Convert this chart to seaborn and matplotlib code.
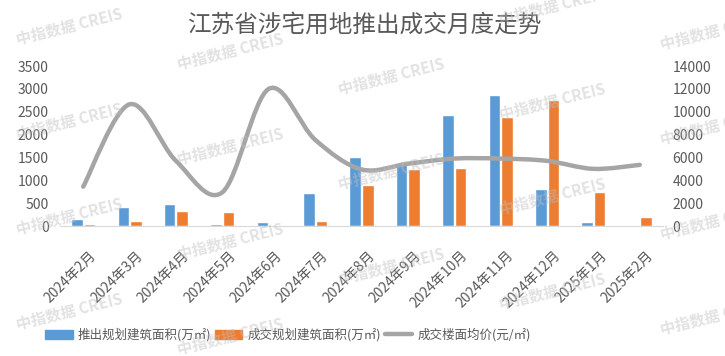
import numpy as np
import pandas as pd
import seaborn as sns
import matplotlib
matplotlib.use("Agg")
import matplotlib.pyplot as plt
from matplotlib.path import Path
from matplotlib.patches import PathPatch, Patch
from matplotlib.lines import Line2D
from matplotlib.transforms import ScaledTranslation

months = ["2024年2月", "2024年3月", "2024年4月", "2024年5月", "2024年6月", "2024年7月",
          "2024年8月", "2024年9月", "2024年10月", "2024年11月", "2024年12月",
          "2025年1月", "2025年2月"]
supply = [160, 410, 480, 50, 90, 720, 1510, 1350, 2425, 2865, 805, 85, 20]
deal = [50, 115, 330, 305, 20, 115, 895, 1245, 1265, 2385, 2755, 740, 195]
price = [3440, 10650, 5700, 2950, 12000, 7550, 4950, 5450, 5900, 5900, 5700, 5000, 5350]

supply_name = "推出规划建筑面积(万㎡)"
deal_name = "成交规划建筑面积(万㎡)"
price_name = "成交楼面均价(元/㎡)"
title = "江苏省涉宅用地推出成交月度走势"

blue = "#5B9BD5"
orange = "#ED7D31"
grey = "#A5A5A5"
txt = "#595959"

sns.set_style("white")
plt.rcParams["font.family"] = ["Noto Sans CJK SC", "DejaVu Sans"]

df = pd.DataFrame({"month": months * 2,
                   "value": supply + deal,
                   "series": [supply_name] * len(months) + [deal_name] * len(months)})

fig, ax = plt.subplots(figsize=(7.25, 3.56), dpi=100)
fig.subplots_adjust(left=60 / 725, right=663 / 725, bottom=1 - 226 / 356, top=1 - 66 / 356)

sns.barplot(data=df, x="month", y="value", hue="series", order=months,
            hue_order=[supply_name, deal_name], palette=[blue, orange],
            saturation=1, width=0.54, gap=0.08, legend=False, ax=ax)
ax.set_xlim(-0.5, len(months) - 0.5)
ax.set_ylim(0, 3500)
ax.set_yticks(np.arange(0, 3501, 500))
ax.set_xlabel("")
ax.set_ylabel("")
for s in ["top", "left", "right"]:
    ax.spines[s].set_visible(False)
ax.spines["bottom"].set_color("#D9D9D9")
ax.set_xticks(np.arange(-0.5, len(months)), minor=True)
ax.tick_params(axis="x", which="minor", length=5, color="#D9D9D9", direction="out")
ax.tick_params(axis="x", which="major", length=0, pad=16, labelsize=10, labelcolor=txt)
ax.tick_params(axis="y", length=0, pad=8, labelsize=10, labelcolor=txt)
for lbl in ax.get_xticklabels():
    lbl.set_rotation(45)
    lbl.set_ha("right")
    lbl.set_va("top")
    lbl.set_transform(lbl.get_transform() + ScaledTranslation(0.16, 0, fig.dpi_scale_trans))

# smoothed price line (Catmull-Rom as cubic Bezier segments)
ax2 = ax.twinx()
ax2.set_ylim(0, 14000)
ax2.set_yticks(np.arange(0, 14001, 2000))
ax2.tick_params(axis="y", length=0, pad=7, labelsize=10, labelcolor=txt)
for s in ax2.spines.values():
    s.set_visible(False)
pts = np.column_stack([np.arange(len(price)), price]).astype(float)
verts = [pts[0]]
codes = [Path.MOVETO]
n = len(pts)
for i in range(n - 1):
    p0 = pts[i - 1] if i > 0 else pts[i]
    p1, p2 = pts[i], pts[i + 1]
    p3 = pts[i + 2] if i + 2 < n else pts[i + 1]
    verts += [p1 + (p2 - p0) / 6, p2 - (p3 - p1) / 6, p2]
    codes += [Path.CURVE4] * 3
ax2.add_patch(PathPatch(Path(verts, codes), facecolor="none", edgecolor=grey,
                        lw=3.2, capstyle="round", joinstyle="round"))

handles = [Patch(color=blue), Patch(color=orange), Line2D([], [], color=grey, lw=3.2)]
leg = fig.legend(handles, [supply_name, deal_name, price_name], loc="center",
                 bbox_to_anchor=(0.397, 0.059), ncol=3, frameon=False, fontsize=9,
                 handlelength=2.2, handleheight=0.8, columnspacing=0.3, handletextpad=0.4)
for t in leg.get_texts():
    t.set_color(txt)

fig.text(0.502, 1 - 25 / 356, title, ha="center", va="center", fontsize=17, color=txt)

# watermark
for i in range(5):
    for j in range(-1, 4):
        x = 69 + 161 * i
        y = 27 + 25 * i + 95 * j
        if y < 0 or y > 350:
            continue
        fig.text(x / 725, 1 - y / 356, "中指数据 CREIS", ha="center", va="center",
                 rotation=14, fontsize=11, fontweight="bold", color="#BFBFBF",
                 alpha=0.45, zorder=10)

fig.savefig("out.png", dpi=100)
